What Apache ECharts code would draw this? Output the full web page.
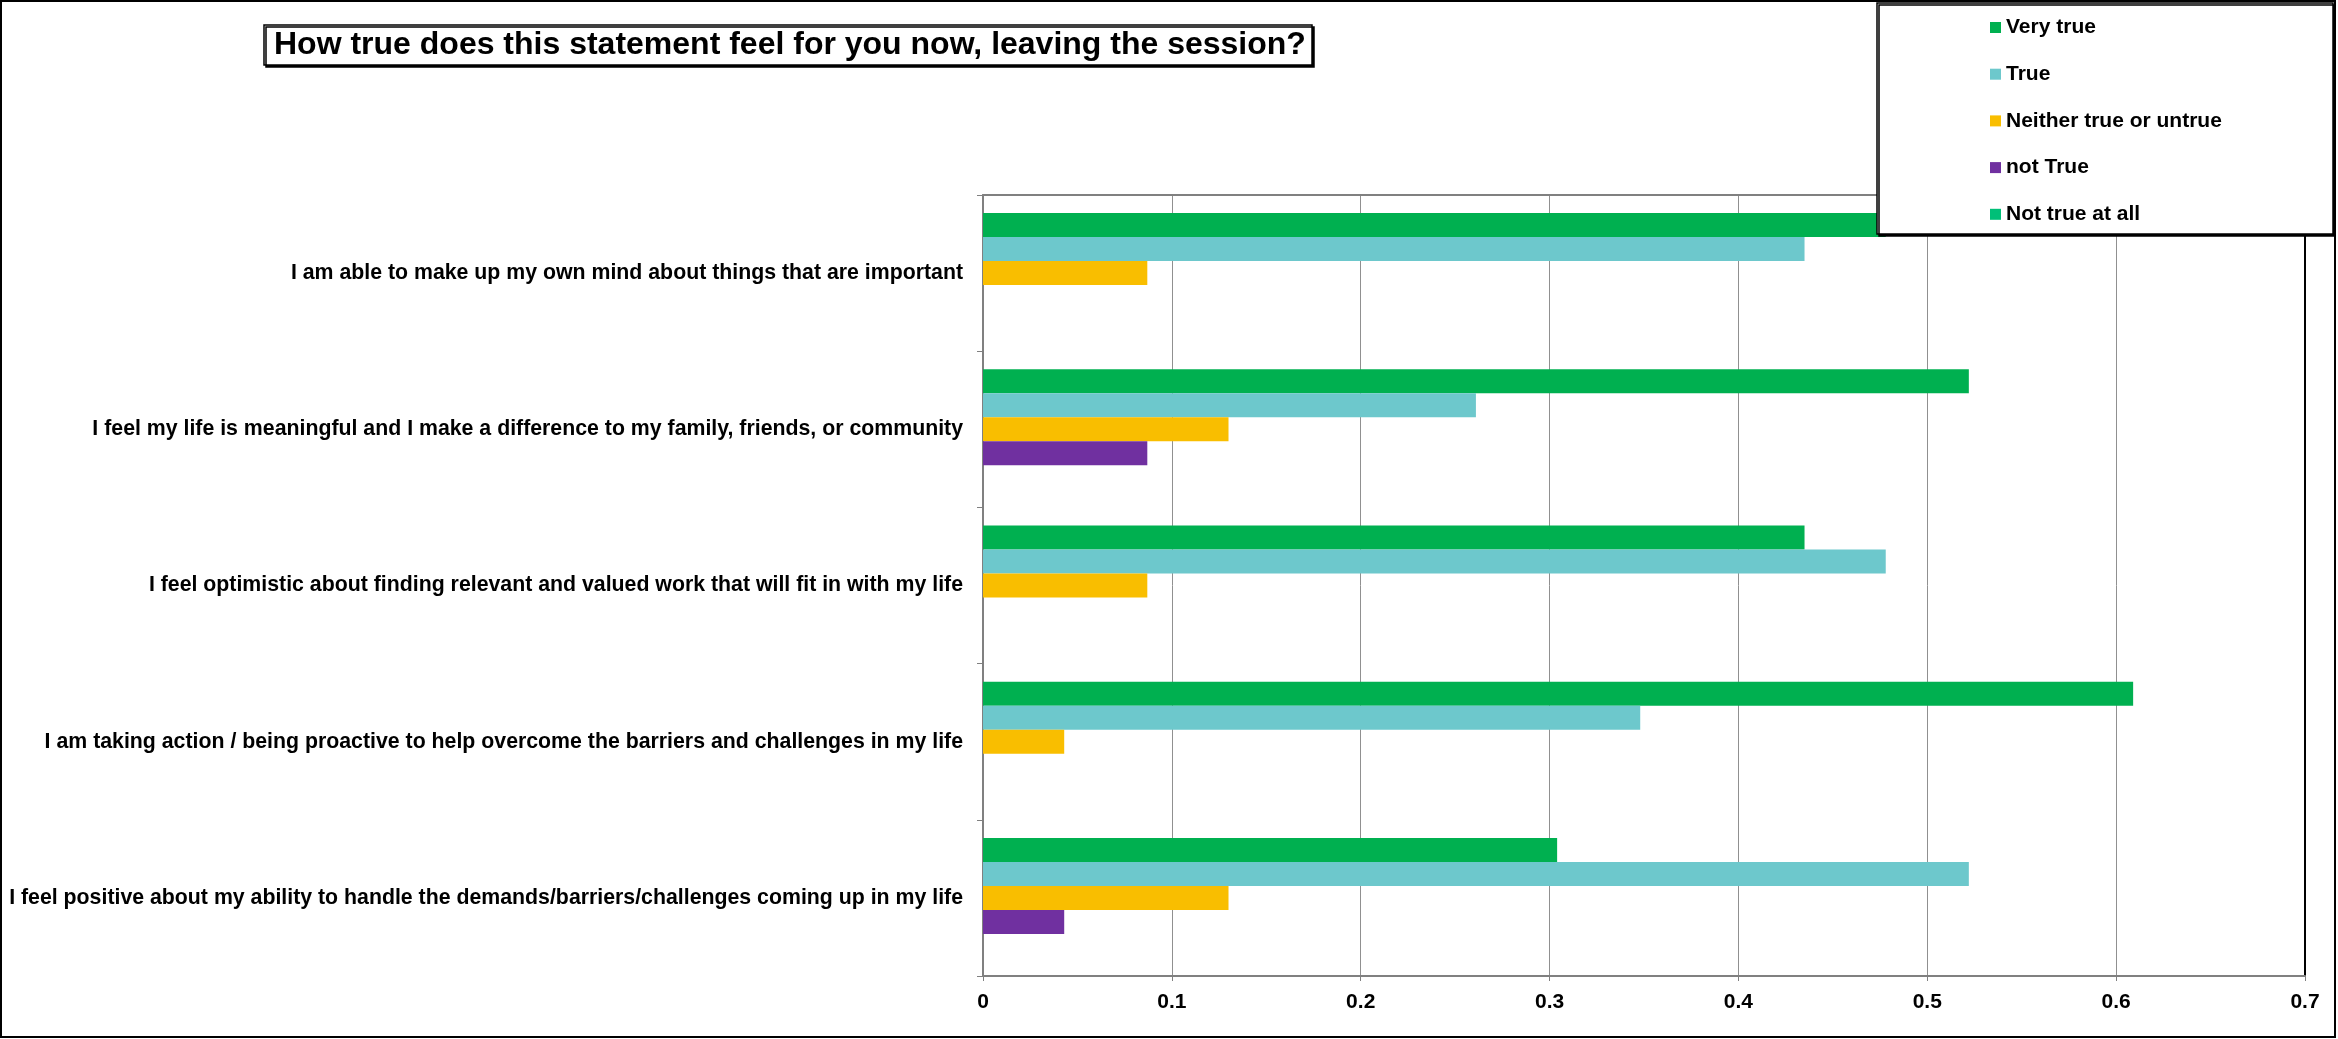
<!DOCTYPE html>
<html>
<head>
<meta charset="utf-8">
<script src="https://cdn.jsdelivr.net/npm/echarts@6/dist/echarts.min.js"></script>
<style>html,body{margin:0;padding:0;background:#fff;}#c{width:2338px;height:1039px;}</style>
</head>
<body>
<div id="c"></div>
<script>
const titleText = 'How true does this statement feel for you now, leaving the session?';
const categories = [
  'I am able to make up my own mind about things that are important',
  'I feel my life is meaningful and I make a difference to my family, friends, or community',
  'I feel optimistic about finding relevant and valued work that will fit in with my life',
  'I am taking action / being proactive to help overcome the barriers and challenges in my life',
  'I feel positive about my ability to handle the demands/barriers/challenges coming up in my life'
];
const seriesNames = ['Very true', 'True', 'Neither true or untrue', 'not True', 'Not true at all'];
const veryTrue   = [0.478, 0.522, 0.435, 0.609, 0.304];
const trueVals   = [0.435, 0.261, 0.478, 0.348, 0.522];
const neither    = [0.087, 0.130, 0.087, 0.043, 0.130];
const notTrue    = [0,     0.087, 0,     0,     0.043];
const notAtAll   = [0,     0,     0,     0,     0];
const xTicks = [0, 0.1, 0.2, 0.3, 0.4, 0.5, 0.6, 0.7];

const colors = ['#00B050', '#6DC8CC', '#F9BE00', '#7030A0', '#00BF78'];
const seriesData = [veryTrue, trueVals, neither, notTrue, notAtAll];
const FONT = '"Liberation Sans", Arial, sans-serif';

const chart = echarts.init(document.getElementById('c'));
chart.setOption({
  animation: false,
  backgroundColor: '#fff',
  title: {
    text: titleText,
    left: 264, top: 25,
    padding: [4, 6, 4, 10],
    borderColor: '#000', borderWidth: 1.5,
    backgroundColor: '#fff',
    shadowColor: '#000', shadowOffsetX: 2, shadowOffsetY: 2, shadowBlur: 0,
    textStyle: { fontFamily: FONT, fontWeight: 'bold', fontSize: 32, lineHeight: 32, color: '#000' }
  },
  legend: {
    orient: 'vertical',
    left: 1990, top: 17,
    padding: 0,
    z: 12,
    itemWidth: 11, itemHeight: 11, itemGap: 25.7,
    icon: 'rect',
    selectedMode: false,
    data: seriesNames,
    textStyle: { fontFamily: FONT, fontWeight: 'bold', fontSize: 21, lineHeight: 21, color: '#000' }
  },
  graphic: [
    { type: 'rect', z: 0, silent: true,
      shape: { x: 1, y: 1, width: 2334, height: 1036 },
      style: { fill: null, stroke: '#000', lineWidth: 2 } },
    { type: 'rect', z: 10, silent: true,
      shape: { x: 1877, y: 3, width: 456, height: 231 },
      style: { fill: '#fff', stroke: '#000', lineWidth: 1.5,
               shadowColor: '#000', shadowOffsetX: 2, shadowOffsetY: 2, shadowBlur: 0 } }
  ],
  grid: { left: 983, right: 33, top: 195, bottom: 63, containLabel: false },
  xAxis: [{
    type: 'value', min: 0, max: 0.7, interval: 0.1,
    axisLine: { show: true, lineStyle: { color: '#808080', width: 2 } },
    axisTick: { show: true, length: 5, lineStyle: { color: '#808080' } },
    axisLabel: { margin: 16, fontFamily: FONT, fontWeight: 'bold', fontSize: 21, color: '#000',
      formatter: v => { const t = xTicks.find(x => Math.abs(x - v) < 1e-9); return t === undefined ? '' : String(t); } },
    splitLine: { show: true, lineStyle: { color: '#909090', width: 1 } }
  }, {
    type: 'value', position: 'top', min: 0, max: 0.7, interval: 0.1,
    axisLine: { show: true, onZero: false, lineStyle: { color: '#808080', width: 2 } },
    axisTick: { show: false }, axisLabel: { show: false }, splitLine: { show: false }
  }],
  yAxis: [{
    type: 'category', inverse: true, data: categories,
    axisLine: { show: true, lineStyle: { color: '#808080', width: 2 } },
    axisTick: { show: true, length: 6, lineStyle: { color: '#808080' } },
    axisLabel: { margin: 20, fontFamily: FONT, fontWeight: 'bold', fontSize: 21.3, color: '#000' },
    splitLine: { show: false }
  }, {
    type: 'category', inverse: true, data: categories, position: 'right',
    axisLine: { show: true, onZero: false, lineStyle: { color: '#000', width: 2 } },
    axisTick: { show: false }, axisLabel: { show: false }, splitLine: { show: false }
  }],
  series: seriesNames.map((name, i) => ({
    name, type: 'bar', data: seriesData[i], xAxisIndex: 0, yAxisIndex: 0,
    barWidth: 24, barGap: '0%',
    itemStyle: { color: colors[i] }
  }))
});
</script>
</body>
</html>
